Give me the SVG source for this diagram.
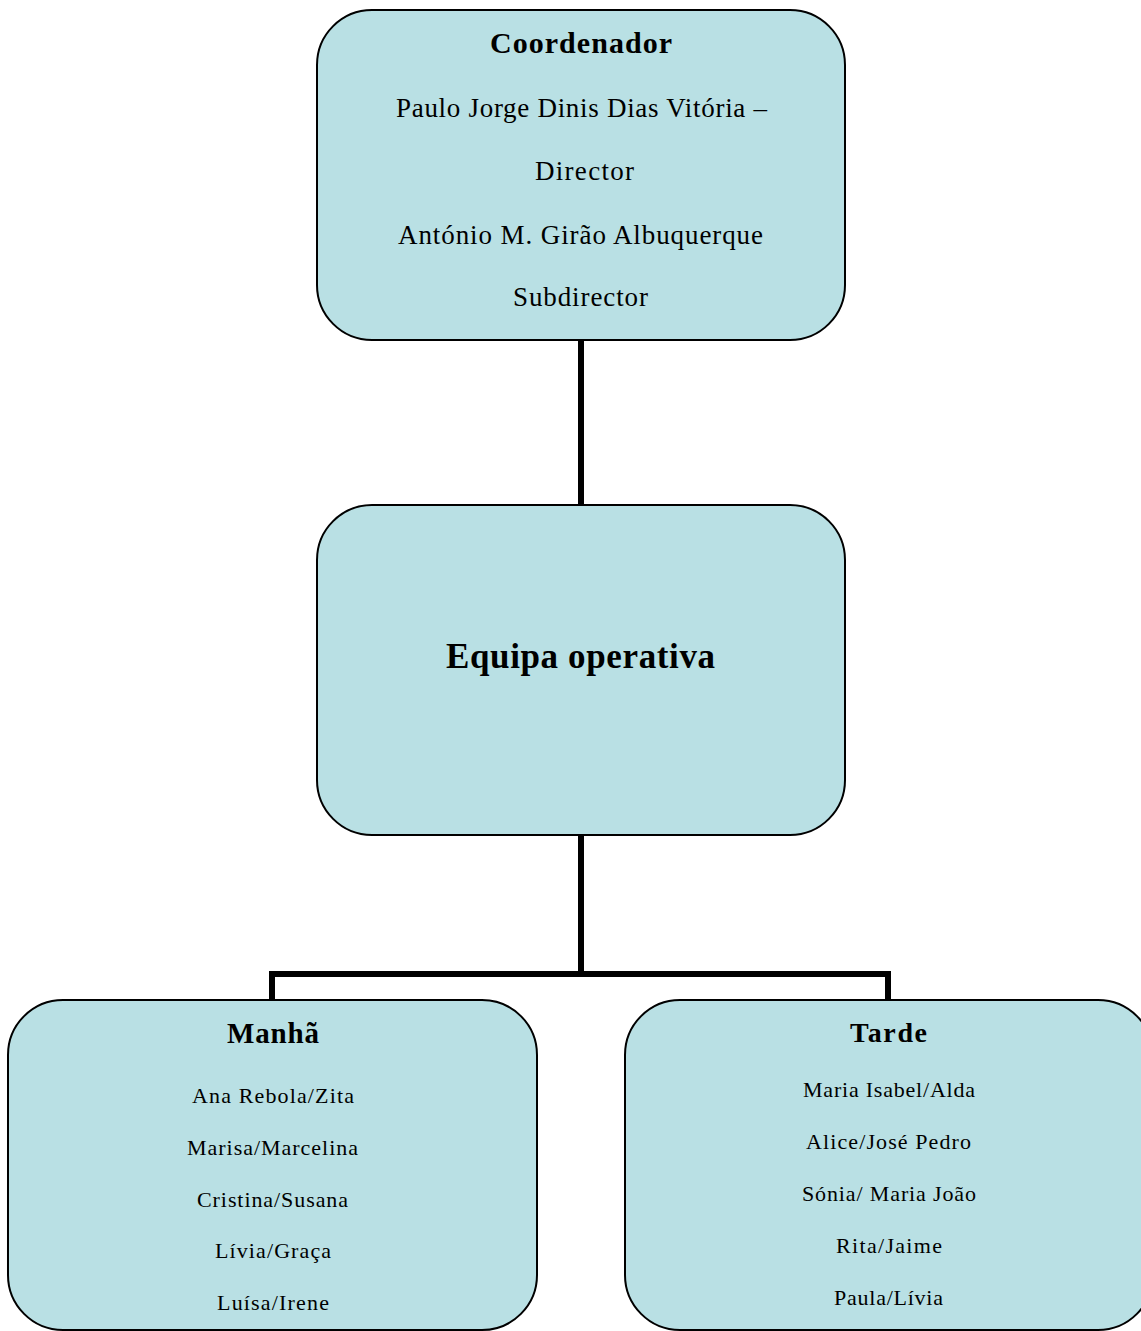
<svg xmlns="http://www.w3.org/2000/svg" width="1141" height="1331" viewBox="0 0 1141 1331">
<style>
.box{fill:#B9E0E4;stroke:#000;stroke-width:2}
.t{font-family:"Liberation Serif","DejaVu Serif",serif;fill:#000;text-anchor:middle}
.b{font-weight:bold}
.con{fill:none;stroke:#000;stroke-width:6}
</style>
<rect width="1141" height="1331" fill="#fff"/>
<g id="connectors">
<line class="con" x1="581" y1="340" x2="581" y2="505"/>
<line class="con" x1="581" y1="835" x2="581" y2="975"/>
<polyline class="con" points="272,1000 272,974 888,974 888,1000"/>
</g>
<g id="coordenador">
<rect class="box" x="317" y="10" width="528" height="330" rx="55"/>
<text class="t b" x="581" y="53" font-size="30" textLength="182" lengthAdjust="spacing">Coordenador</text>
<text class="t" x="581.5" y="117" font-size="27" textLength="371" lengthAdjust="spacing">Paulo Jorge Dinis Dias Vitória –</text>
<text class="t" x="584.5" y="180" font-size="27" textLength="99" lengthAdjust="spacing">Director</text>
<text class="t" x="580.5" y="244" font-size="27" textLength="365" lengthAdjust="spacing">António M. Girão Albuquerque</text>
<text class="t" x="580.5" y="306" font-size="27" textLength="135" lengthAdjust="spacing">Subdirector</text>
</g>
<g id="equipa">
<rect class="box" x="317" y="505" width="528" height="330" rx="55"/>
<text class="t b" x="580.5" y="668" font-size="35" textLength="269" lengthAdjust="spacing">Equipa operativa</text>
</g>
<g id="manha">
<rect class="box" x="8" y="1000" width="529" height="330" rx="55"/>
<text class="t b" x="273" y="1043" font-size="29" textLength="92" lengthAdjust="spacing">Manhã</text>
<text class="t" x="273" y="1103" font-size="22" textLength="162" lengthAdjust="spacing">Ana Rebola/Zita</text>
<text class="t" x="272.5" y="1155" font-size="22" textLength="171" lengthAdjust="spacing">Marisa/Marcelina</text>
<text class="t" x="272.5" y="1207" font-size="22" textLength="151" lengthAdjust="spacing">Cristina/Susana</text>
<text class="t" x="273" y="1258" font-size="22" textLength="116" lengthAdjust="spacing">Lívia/Graça</text>
<text class="t" x="273" y="1310" font-size="22" textLength="112" lengthAdjust="spacing">Luísa/Irene</text>
</g>
<g id="tarde">
<rect class="box" x="625" y="1000" width="528" height="330" rx="55"/>
<text class="t b" x="888.5" y="1042" font-size="28" textLength="77" lengthAdjust="spacing">Tarde</text>
<text class="t" x="889" y="1097" font-size="22" textLength="172" lengthAdjust="spacing">Maria Isabel/Alda</text>
<text class="t" x="888.5" y="1149" font-size="22" textLength="165" lengthAdjust="spacing">Alice/José Pedro</text>
<text class="t" x="889" y="1201" font-size="22" textLength="174" lengthAdjust="spacing">Sónia/ Maria João</text>
<text class="t" x="889" y="1253" font-size="22" textLength="106" lengthAdjust="spacing">Rita/Jaime</text>
<text class="t" x="888.5" y="1305" font-size="22" textLength="109" lengthAdjust="spacing">Paula/Lívia</text>
</g>
</svg>
